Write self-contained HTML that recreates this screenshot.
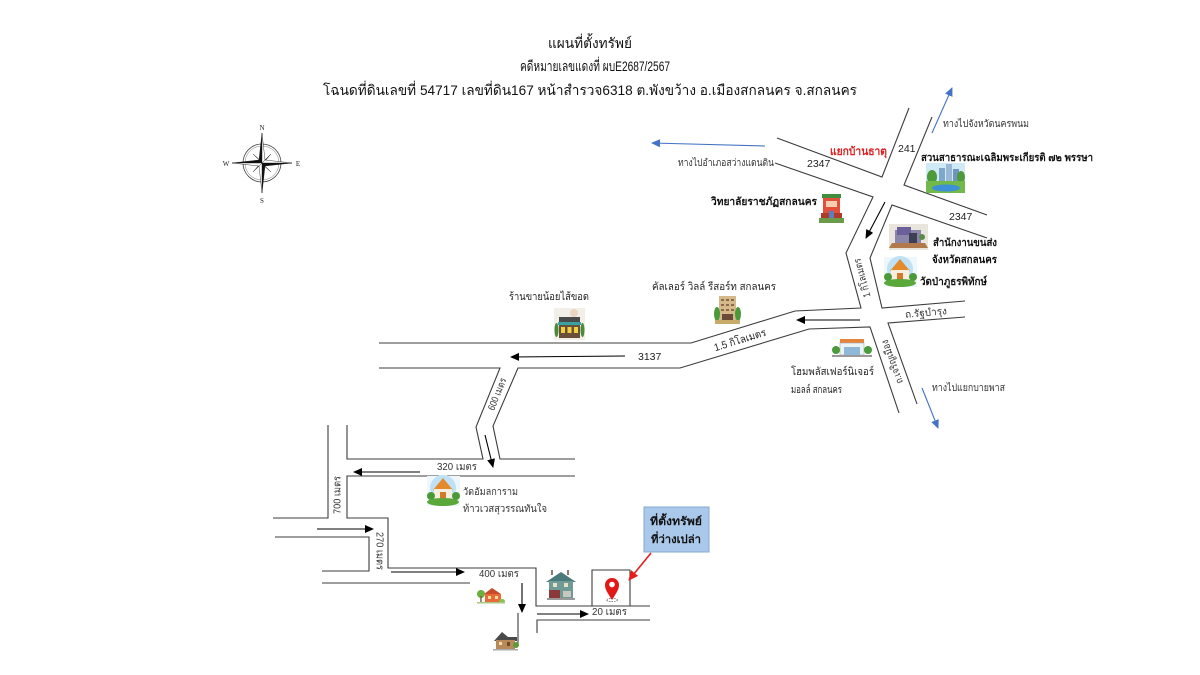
<!DOCTYPE html>
<html><head><meta charset="utf-8"><style>
html,body{margin:0;padding:0;background:#fff;}
svg{display:block;}
text{font-family:"Liberation Sans",sans-serif;fill:#222;}
.t{font-size:14px;fill:#111;}
.s{font-size:10px;fill:#333;}
.b{font-size:10.5px;font-weight:bold;fill:#111;}
.n{font-size:10.5px;fill:#222;}
.r{fill:none;stroke:#3c3c3c;stroke-width:1.1;}
.ak{stroke:#000;stroke-width:1.1;fill:none;marker-end:url(#ak);}
.ab{stroke:#4472c4;stroke-width:1.1;fill:none;marker-end:url(#ab);}
</style></head><body>
<svg width="1200" height="675" viewBox="0 0 1200 675" xmlns="http://www.w3.org/2000/svg">
<defs>
<marker id="ak" markerWidth="9" markerHeight="9" refX="8" refY="4.5" orient="auto" markerUnits="userSpaceOnUse"><path d="M0,0.5 L9,4.5 L0,8.5z" fill="#000"/></marker>
<marker id="ab" markerWidth="9" markerHeight="9" refX="8" refY="4.5" orient="auto" markerUnits="userSpaceOnUse"><path d="M0,0.5 L9,4.5 L0,8.5z" fill="#4472c4"/></marker>
<marker id="ar" markerWidth="10" markerHeight="10" refX="9" refY="5" orient="auto" markerUnits="userSpaceOnUse"><path d="M0,0.5 L10,5 L0,9.5z" fill="#e81c1c"/></marker>
</defs>
<rect width="1200" height="675" fill="#fff"/>

<!-- Titles -->
<text class="t" x="590" y="48" text-anchor="middle" textLength="84" lengthAdjust="spacingAndGlyphs">แผนที่ตั้งทรัพย์</text>
<text class="t" x="595" y="71" text-anchor="middle" textLength="150" lengthAdjust="spacingAndGlyphs">คดีหมายเลขแดงที่ ผบE2687/2567</text>
<text class="t" x="590" y="95" text-anchor="middle" textLength="534" lengthAdjust="spacingAndGlyphs">โฉนดที่ดินเลขที่ 54717 เลขที่ดิน167 หน้าสำรวจ6318 ต.พังขว้าง อ.เมืองสกลนคร จ.สกลนคร</text>

<!-- Compass -->
<g transform="translate(262,163)">
<circle r="19" fill="none" stroke="#444" stroke-width="0.8"/>
<circle r="17" fill="none" stroke="#777" stroke-width="0.5"/>
<g fill="#111" stroke="#111" stroke-width="0.4">
<polygon points="0,0 9,-9 3,-2"/><polygon points="0,0 9,9 2,3" fill="#fff"/>
<polygon points="0,0 -9,9 -3,2"/><polygon points="0,0 -9,-9 -2,-3" fill="#fff"/>
<polygon points="0,-30 -3,-3 0,0"/><polygon points="0,-30 3,-3 0,0" fill="#fff"/>
<polygon points="0,30 3,3 0,0"/><polygon points="0,30 -3,3 0,0" fill="#fff"/>
<polygon points="30,0 3,3 0,0"/><polygon points="30,0 3,-3 0,0" fill="#fff"/>
<polygon points="-30,0 -3,-3 0,0"/><polygon points="-30,0 -3,3 0,0" fill="#fff"/>
</g>
</g>
<g style="font-family:'Liberation Serif',serif;font-size:7px;fill:#222" text-anchor="middle">
<text x="262" y="130" style="font-family:'Liberation Serif',serif">N</text>
<text x="262" y="203" style="font-family:'Liberation Serif',serif">S</text>
<text x="226" y="166" style="font-family:'Liberation Serif',serif">W</text>
<text x="298" y="166" style="font-family:'Liberation Serif',serif">E</text>
</g>

<!-- Roads -->
<path class="r" d="M777,138 L882,177 L909,108"/>
<path class="r" d="M932,117 L904,185 L987,215"/>
<path class="r" d="M775,163 L873,197 L846,253 L861,308 L795,311 L691,343 L379,343"/>
<path class="r" d="M987,238 L892,205 L870,258 L882,308 L965,301"/>
<path class="r" d="M379,368 L500,368 L476,427 L483,459 L347,459 L347,425"/>
<path class="r" d="M575,459 L500,459 L493,426 L518,368 L680,368 L809,329 L870,327 L899,413"/>
<path class="r" d="M965,317 L888,323 L917,404"/>
<path class="r" d="M575,476 L347,476 L347,518 L388,518 L388,568 L536,568 L536,606 L650,606"/>
<path class="r" d="M328,425 L328,518 L273,518"/>
<path class="r" d="M275,537 L369,537 L369,571 L322,571"/>
<path class="r" d="M322,583 L470,583"/>
<path class="r" d="M518,613 L518,645"/>
<path class="r" d="M650,620 L537,620 L537,633"/>
<path class="r" d="M592,606 L592,570 L630,570 L630,606"/>

<!-- Black arrows -->
<path class="ak" d="M885,202 L866,238"/>
<path class="ak" d="M860,320 L797,320"/>
<path class="ak" d="M625,356 L511,357"/>
<path class="ak" d="M485,435 L493,467"/>
<path class="ak" d="M420,472 L354,472"/>
<path class="ak" d="M317,529 L373,529"/>
<path class="ak" d="M391,572 L464,572"/>
<path class="ak" d="M522,583 L522,612"/>
<path class="ak" d="M537,614 L588,614"/>

<!-- Blue arrows -->
<path class="ab" d="M765,146 L652,143"/>
<path class="ab" d="M932,133 L952,88"/>
<path class="ab" d="M922,388 L938,428"/>

<!-- Red arrow -->
<path d="M651,553 L629,580" stroke="#e81c1c" stroke-width="1.6" fill="none" marker-end="url(#ar)"/>

<!-- Labels -->
<text class="s" x="943" y="127" textLength="86" lengthAdjust="spacingAndGlyphs">ทางไปจังหวัดนครพนม</text>
<text class="s" x="678" y="166" textLength="96" lengthAdjust="spacingAndGlyphs">ทางไปอำเภอสว่างแดนดิน</text>
<text class="n" x="807" y="167">2347</text>
<text x="830" y="155" style="font-size:11px;font-weight:bold;fill:#e02020" textLength="57" lengthAdjust="spacingAndGlyphs">แยกบ้านธาตุ</text>
<text class="n" x="898" y="152">241</text>
<text class="b" x="921" y="161" textLength="172" lengthAdjust="spacingAndGlyphs">สวนสาธารณะเฉลิมพระเกียรติ ๗๒ พรรษา</text>
<text class="b" x="711" y="205" textLength="106" lengthAdjust="spacingAndGlyphs">วิทยาลัยราชภัฏสกลนคร</text>
<text class="n" x="949" y="220">2347</text>
<text class="b" x="933" y="246" textLength="64" lengthAdjust="spacingAndGlyphs">สำนักงานขนส่ง</text>
<text class="b" x="932" y="263" textLength="65" lengthAdjust="spacingAndGlyphs">จังหวัดสกลนคร</text>
<text class="b" x="920" y="285" textLength="67" lengthAdjust="spacingAndGlyphs">วัดป่าภูธรพิทักษ์</text>
<text class="s" x="905" y="316" transform="rotate(-5 926 313)" textLength="42" lengthAdjust="spacingAndGlyphs">ถ.รัฐบำรุง</text>
<text class="s" transform="translate(862,278) rotate(-105)" y="3.5" text-anchor="middle" textLength="40" lengthAdjust="spacingAndGlyphs">1 กิโลเมตร</text>
<text class="s" transform="translate(892,362) rotate(-110)" y="3.5" text-anchor="middle" textLength="46" lengthAdjust="spacingAndGlyphs">ถ.เจริญเมือง</text>
<text class="s" x="932" y="391" textLength="73" lengthAdjust="spacingAndGlyphs">ทางไปแยกบายพาส</text>
<text class="n" x="791" y="375" textLength="83" lengthAdjust="spacingAndGlyphs">โฮมพลัสเฟอร์นิเจอร์</text>
<text class="n" x="791" y="393" textLength="51" lengthAdjust="spacingAndGlyphs">มอลล์ สกลนคร</text>
<text class="n" x="652" y="290" textLength="124" lengthAdjust="spacingAndGlyphs">คัลเลอร์ วิลล์ รีสอร์ท สกลนคร</text>
<text class="n" x="509" y="300" textLength="80" lengthAdjust="spacingAndGlyphs">ร้านขายน้อยไส้ขอด</text>
<text class="n" x="638" y="360">3137</text>
<text class="n" transform="translate(740,340) rotate(-17)" y="3.5" text-anchor="middle" textLength="54" lengthAdjust="spacingAndGlyphs">1.5 กิโลเมตร</text>
<text class="s" transform="translate(497,394) rotate(-68)" y="3.5" text-anchor="middle" textLength="34" lengthAdjust="spacingAndGlyphs">600 เมตร</text>
<text class="s" x="437" y="470" textLength="40" lengthAdjust="spacingAndGlyphs">320 เมตร</text>
<text class="s" x="463" y="495" textLength="55" lengthAdjust="spacingAndGlyphs">วัดอัมลการาม</text>
<text class="s" x="463" y="512" textLength="84" lengthAdjust="spacingAndGlyphs">ท้าวเวสสุวรรณทันใจ</text>
<text class="s" transform="translate(337,495) rotate(-90)" y="3.5" text-anchor="middle" textLength="38" lengthAdjust="spacingAndGlyphs">700 เมตร</text>
<text class="s" transform="translate(380,551) rotate(90)" y="3.5" text-anchor="middle" textLength="38" lengthAdjust="spacingAndGlyphs">270 เมตร</text>
<text class="s" x="479" y="577" textLength="40" lengthAdjust="spacingAndGlyphs">400 เมตร</text>
<text class="s" x="592" y="615" textLength="35" lengthAdjust="spacingAndGlyphs">20 เมตร</text>

<!-- Callout -->
<rect x="644" y="507" width="65" height="45" fill="#a9c8ea" stroke="#86aad3" stroke-width="1"/>
<text x="676" y="525" text-anchor="middle" style="font-size:11px;font-weight:bold;fill:#111" textLength="52" lengthAdjust="spacingAndGlyphs">ที่ตั้งทรัพย์</text>
<text x="676" y="543" text-anchor="middle" style="font-size:11px;font-weight:bold;fill:#111" textLength="50" lengthAdjust="spacingAndGlyphs">ที่ว่างเปล่า</text>

<!-- Park -->
<g transform="translate(926,163)">
<rect width="39" height="30" fill="#cfe9f7"/>
<rect x="13" y="5" width="6" height="15" fill="#7fa7c9"/>
<rect x="20" y="1" width="6" height="19" fill="#9ab8d6"/>
<rect x="27" y="6" width="6" height="14" fill="#6d95bd"/>
<ellipse cx="6" cy="14" rx="5" ry="7" fill="#4c9a3a"/>
<ellipse cx="35" cy="14" rx="4" ry="6" fill="#4c9a3a"/>
<rect y="18" width="39" height="12" fill="#72b84a"/>
<ellipse cx="20" cy="25" rx="14" ry="3.5" fill="#3d8fd6"/>
</g>

<!-- University -->
<g transform="translate(819,193)">
<rect x="3" y="1" width="19" height="4" fill="#3e8e3e"/>
<rect x="4" y="5" width="17" height="17" fill="#e0503a"/>
<rect x="7" y="8" width="11" height="6" fill="#f4d0b0"/>
<rect x="2" y="20" width="21" height="6" fill="#b03a2a"/>
<rect x="10" y="18" width="5" height="10" fill="#5a7ec0"/>
<rect x="0" y="25" width="25" height="5" fill="#6a9a4a"/>
</g>

<!-- Transport office -->
<g transform="translate(889,224)">
<rect width="39" height="26" fill="#e9e4dc"/>
<polygon points="3,19 36,19 39,24 0,24" fill="#b07a4a"/>
<rect x="6" y="6" width="26" height="13" fill="#8b86a8"/>
<rect x="8" y="3" width="14" height="8" fill="#6c5f9a"/>
<rect x="20" y="9" width="8" height="10" fill="#3e3e55"/>
<circle cx="33" cy="13" r="3" fill="#5a8a4a"/>
</g>

<!-- Temple 1 -->
<g transform="translate(884,257)">
<rect width="33" height="30" fill="#eef7fc"/>
<circle cx="16" cy="12" r="13" fill="#bfe1f5"/>
<polygon points="16,2 26,14 6,14" fill="#e58a2a"/>
<rect x="7" y="13" width="18" height="11" fill="#f6efe0"/>
<rect x="13" y="16" width="6" height="8" fill="#d07a2a"/>
<circle cx="4" cy="20" r="4" fill="#4b9a38"/><circle cx="29" cy="20" r="4" fill="#4b9a38"/>
<ellipse cx="16" cy="26" rx="16" ry="4" fill="#5aa83a"/>
</g>

<!-- Temple 2 -->
<g transform="translate(427,476)">
<rect width="33" height="30" fill="#eef7fc"/>
<circle cx="16" cy="12" r="13" fill="#bfe1f5"/>
<polygon points="16,2 26,14 6,14" fill="#e58a2a"/>
<rect x="7" y="13" width="18" height="11" fill="#f6efe0"/>
<rect x="13" y="16" width="6" height="8" fill="#d07a2a"/>
<circle cx="4" cy="20" r="4" fill="#4b9a38"/><circle cx="29" cy="20" r="4" fill="#4b9a38"/>
<ellipse cx="16" cy="26" rx="16" ry="4" fill="#5aa83a"/>
</g>

<!-- Homepro -->
<g transform="translate(832,338)">
<rect x="8" y="1" width="24" height="4" fill="#e8843a"/>
<rect x="8" y="5" width="24" height="12" fill="#eef3f6" stroke="#9aaab8" stroke-width="0.6"/>
<rect x="12" y="9" width="16" height="8" fill="#8fb8d8"/>
<circle cx="4" cy="12" r="4" fill="#4a9a3a"/><circle cx="36" cy="12" r="4" fill="#4a9a3a"/>
<rect y="17" width="40" height="2" fill="#9a9a9a"/>
</g>

<!-- Resort -->
<g transform="translate(713,294)">
<rect x="6" y="2" width="17" height="24" fill="#d6b98a"/>
<g fill="#8a6a4a">
<rect x="8" y="5" width="3" height="2"/><rect x="13" y="5" width="3" height="2"/><rect x="18" y="5" width="3" height="2"/>
<rect x="8" y="10" width="3" height="2"/><rect x="13" y="10" width="3" height="2"/><rect x="18" y="10" width="3" height="2"/>
<rect x="8" y="15" width="3" height="2"/><rect x="13" y="15" width="3" height="2"/><rect x="18" y="15" width="3" height="2"/>
</g>
<rect x="9" y="20" width="11" height="6" fill="#6b4a3a"/>
<ellipse cx="4" cy="20" rx="3" ry="7" fill="#4a9a3a"/><ellipse cx="25" cy="20" rx="3" ry="7" fill="#4a9a3a"/>
<rect x="2" y="26" width="25" height="4" fill="#c8aa6a"/>
</g>

<!-- Shop -->
<g transform="translate(554,308)">
<rect width="31" height="32" fill="#f2eee8"/>
<circle cx="20" cy="5" r="4" fill="#e8d6c0"/>
<rect x="5" y="9" width="21" height="5" fill="#4a4a4a"/>
<rect x="4" y="14" width="23" height="3" fill="#3aa0a0"/>
<rect x="5" y="17" width="21" height="13" fill="#6a5038"/>
<rect x="7" y="19" width="4" height="6" fill="#f0d040"/><rect x="13.5" y="19" width="4" height="6" fill="#f0d040"/><rect x="20" y="19" width="4" height="6" fill="#f0d040"/>
<ellipse cx="2.5" cy="22" rx="2" ry="7" fill="#4a8a3a"/><ellipse cx="28.5" cy="22" rx="2" ry="7" fill="#4a8a3a"/>
</g>

<!-- Green house -->
<g transform="translate(545,570)">
<rect x="6" y="0" width="2" height="5" fill="#8a7a7a"/><rect x="22" y="0" width="2" height="5" fill="#8a7a7a"/>
<polygon points="1,12 16,2 31,12" fill="#4a7a7a"/>
<rect x="4" y="11" width="24" height="17" fill="#6f9a96"/>
<rect x="4" y="20" width="11" height="8" fill="#8a3a3a"/>
<rect x="8" y="13" width="4" height="4" fill="#e8e0c8"/><rect x="19" y="13" width="4" height="4" fill="#e8e0c8"/>
<rect x="18" y="21" width="8" height="6" fill="#c8c8c0"/>
<rect x="2" y="28" width="28" height="2" fill="#9a9a9a"/>
</g>

<!-- Orange house -->
<g transform="translate(477,588)">
<circle cx="4" cy="6" r="4" fill="#6ab040"/>
<rect x="3.3" y="8" width="1.4" height="6" fill="#7a5a3a"/>
<polygon points="7,6 15,0 24,6" fill="#c84a2a"/>
<rect x="8" y="6" width="16" height="8" fill="#e86a3a"/>
<rect x="11" y="8" width="3" height="3" fill="#f8e0a0"/><rect x="18" y="8" width="3" height="3" fill="#f8e0a0"/>
<ellipse cx="25" cy="13" rx="3" ry="2" fill="#8ac050"/>
<rect x="0" y="14" width="28" height="1.5" fill="#a8c880"/>
</g>

<!-- Bottom house -->
<g transform="translate(493,630)">
<polygon points="1,11 9,2 15,7 24,7 24,11" fill="#4a4a4a"/>
<rect x="3" y="10" width="19" height="9" fill="#b88a5a"/>
<rect x="6" y="12" width="3" height="3" fill="#f0e0b0"/><rect x="14" y="12" width="3" height="4" fill="#6a4a2a"/>
<circle cx="23" cy="15" r="3" fill="#5a9a3a"/>
<rect x="0" y="19" width="25" height="1.5" fill="#aaa"/>
</g>

<!-- Pin -->
<ellipse cx="612" cy="600" rx="5.5" ry="1.6" fill="none" stroke="#333" stroke-width="0.6" stroke-dasharray="1.5,1"/>
<path d="M612,600 C608.5,594 605,590 605,585 A7,7 0 1 1 619,585 C619,590 615.5,594 612,600z" fill="#e01818"/>
<circle cx="612" cy="584.5" r="2.8" fill="#fff"/>
</svg>
</body></html>
